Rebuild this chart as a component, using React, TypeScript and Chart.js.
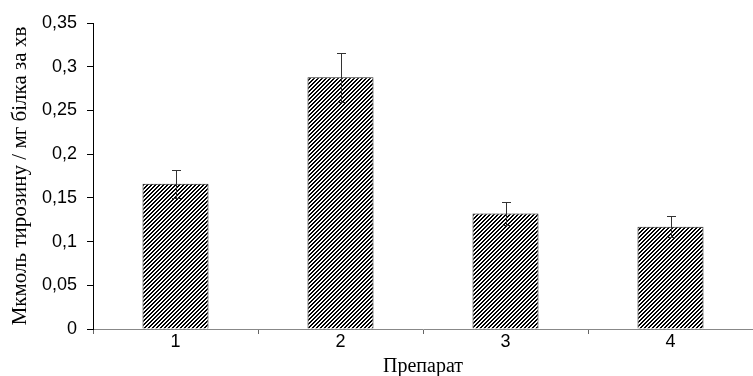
import React, { useEffect, useRef } from "react";
import { Chart, registerables } from "chart.js";

Chart.register(...registerables);

const categories = ["1", "2", "3", "4"];
const values = [0.166, 0.288, 0.132, 0.117];
const errors = [0.016, 0.028, 0.013, 0.012];
const yTicks = [0, 0.05, 0.1, 0.15, 0.2, 0.25, 0.3, 0.35];
const yTitle = "Мкмоль тирозину / мг білка за хв";
const xTitle = "Препарат";

function makePattern(): CanvasPattern | string {
  const c = document.createElement("canvas");
  const s = 4;
  c.width = s;
  c.height = s;
  const ctx = c.getContext("2d");
  if (!ctx) return "#000";
  ctx.fillStyle = "#fff";
  ctx.fillRect(0, 0, s, s);
  ctx.fillStyle = "#000";
  for (let y = 0; y < s; y++) {
    const x0 = (s - 1 - y + s) % s;
    ctx.fillRect(x0, y, 1, 1);
    ctx.fillRect((x0 + 1) % s, y, 1, 1);
  }
  const p = ctx.createPattern(c, "repeat");
  return p || "#000";
}

const errorBarPlugin = {
  id: "errorBars",
  afterDatasetsDraw(chart: any) {
    const ctx = chart.ctx;
    const meta = chart.getDatasetMeta(0);
    const yScale = chart.scales.y;
    ctx.save();
    ctx.strokeStyle = "#333";
    ctx.lineWidth = 1;
    meta.data.forEach((bar: any, i: number) => {
      const x = Math.round(bar.x) + 0.5;
      const top = Math.round(yScale.getPixelForValue(values[i] + errors[i])) + 0.5;
      const bot = Math.round(yScale.getPixelForValue(values[i] - errors[i])) + 0.5;
      ctx.beginPath();
      ctx.moveTo(x, top);
      ctx.lineTo(x, bot);
      ctx.moveTo(x - 4.5, top);
      ctx.lineTo(x + 4.5, top);
      ctx.moveTo(x - 4.5, bot);
      ctx.lineTo(x + 4.5, bot);
      ctx.stroke();
    });
    ctx.restore();
  },
};

export default function App() {
  const ref = useRef<HTMLCanvasElement>(null);
  useEffect(() => {
    document.body.style.margin = "0";
    const canvas = ref.current;
    if (!canvas) return;
    const chart = new Chart(canvas, {
      type: "bar",
      data: {
        labels: categories,
        datasets: [
          {
            data: values,
            backgroundColor: makePattern() as any,
            borderColor: "#222",
            borderWidth: 1,
            barPercentage: 0.4,
            categoryPercentage: 1,
          },
        ],
      },
      options: {
        responsive: false,
        animation: false,
        devicePixelRatio: 1,
        layout: { padding: { top: 23, right: 0, bottom: 0, left: 0 } },
        plugins: {
          legend: { display: false },
          tooltip: { enabled: false },
        },
        scales: {
          x: {
            offset: true,
            grid: {
              offset: true,
              drawOnChartArea: false,
              drawTicks: true,
              tickLength: 5,
              color: "#666",
            },
            border: { display: true, color: "#888", width: 1 },
            ticks: {
              color: "#000",
              padding: -3,
              font: { family: "'Liberation Sans', Arial, sans-serif", size: 18 },
            },
            title: {
              display: true,
              text: xTitle,
              color: "#000",
              padding: { top: 0, bottom: -3 },
              font: { family: "'Liberation Serif', 'Times New Roman', serif", size: 20 },
            },
            afterFit: (s: any) => {
              s.height = 47;
            },
          },
          y: {
            min: 0,
            max: 0.35,
            afterBuildTicks: (s: any) => {
              s.ticks = yTicks.map((v) => ({ value: v }));
            },
            grid: {
              drawOnChartArea: false,
              drawTicks: true,
              tickLength: 6,
              color: "#000",
            },
            border: { display: true, color: "#000", width: 1 },
            ticks: {
              color: "#000",
              padding: 10,
              callback: (v: any) => String(Number(v)).replace(".", ","),
              font: { family: "'Liberation Sans', Arial, sans-serif", size: 18 },
            },
            title: {
              display: true,
              text: yTitle,
              color: "#000",
              padding: { top: 8, bottom: 0 },
              font: { family: "'Liberation Serif', 'Times New Roman', serif", size: 21 },
            },
            afterFit: (s: any) => {
              s.width = 93;
            },
          },
        },
      },
      plugins: [errorBarPlugin],
    });
    return () => chart.destroy();
  }, []);
  return <canvas ref={ref} width={753} height={376} style={{ display: "block" }} />;
}
